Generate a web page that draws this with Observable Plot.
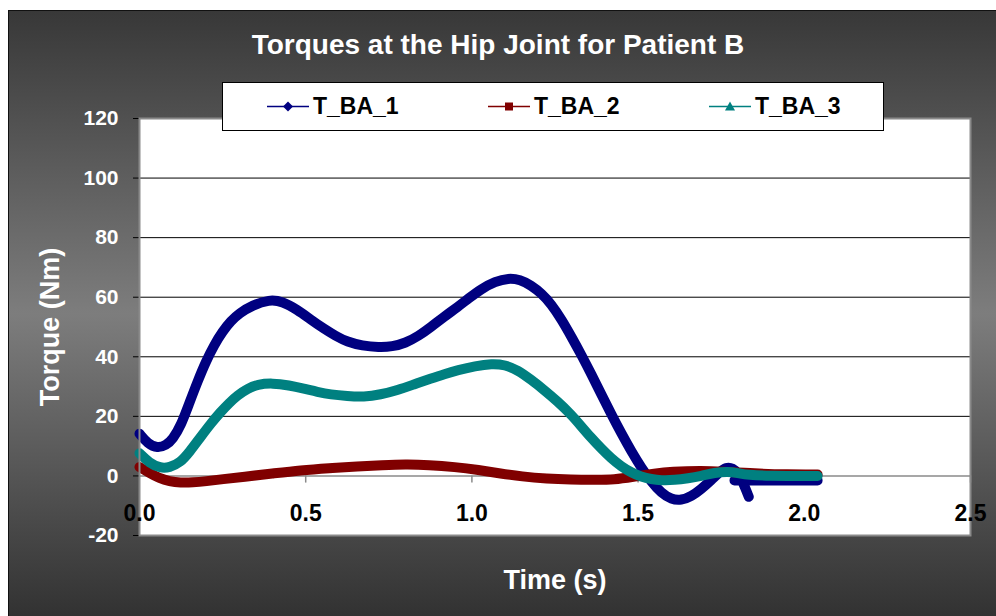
<!DOCTYPE html>
<html>
<head>
<meta charset="utf-8">
<script src="https://cdn.jsdelivr.net/npm/d3@7"></script>
<script src="https://cdn.jsdelivr.net/npm/@observablehq/plot@0.6"></script>
<style>
  html, body { margin: 0; padding: 0; background: #fff; }
  #wrap { position: relative; width: 996px; height: 616px; overflow: hidden; background: #fff;
          font-family: "Liberation Sans", Arial, sans-serif; }
  #bg { position: absolute; left: 8px; top: 10px; right: 0; bottom: 0;
        border-left: 1px solid #111; border-top: 1px solid #111;
        background: linear-gradient(to bottom, #383838 0%, #7d7d7d 50%, #323232 100%); }
  #title { position: absolute; left: 0; top: 27px; width: 996px; text-align: center;
           color: #fff; font-weight: bold; font-size: 28px; line-height: 36px; }
  #chart { position: absolute; left: 0; top: 0; }
  #legend { position: absolute; left: 222px; top: 82px; width: 660px; height: 47px;
            background: #fff; border: 1px solid #000; }
  .item { position: absolute; top: 0; height: 47px; }
  .item svg { position: absolute; top: 0; left: 0; }
  .item span { position: absolute; top: 0; line-height: 47px; font-size: 23px; font-weight: bold; color: #000; white-space: nowrap; }
</style>
</head>
<body>
<div id="wrap">
  <div id="bg"></div>
  <div id="chart"></div>
  <div id="title">Torques at the Hip Joint for Patient B</div>
  <div id="legend"></div>
</div>
<script>
// ---- Data ----
const seriesNames = ["T_BA_1", "T_BA_2", "T_BA_3"];
const seriesColors = ["#000080", "#800000", "#008080"];

// T_BA_1 (a gap, NaN, separates the short tail segment)
const time1 = [0, 0.025, 0.054, 0.08, 0.1, 0.125, 0.15, 0.175, 0.2, 0.225, 0.25, 0.275, 0.3, 0.34, 0.39, 0.43, 0.475, 0.515, 0.555, 0.59, 0.625, 0.67, 0.72, 0.76, 0.8, 0.84, 0.877, 0.917, 0.957, 0.99, 1.027, 1.07, 1.11, 1.145, 1.178, 1.21, 1.238, 1.27, 1.3, 1.33, 1.36, 1.39, 1.42, 1.45, 1.48, 1.51, 1.54, 1.57, 1.6, 1.63, 1.66, 1.69, 1.72, 1.745, 1.765, 1.785, 1.8, 1.815, 1.833, 1.84, 1.79, 1.9, 2.0, 2.04];
const torque1 = [14.2, 10.8, 9.3, 10.3, 12.3, 17, 24.5, 31.8, 38.5, 44, 48.5, 52, 54.6, 57.3, 59.2, 58.6, 55.8, 52.5, 49.4, 47, 45, 43.7, 43.2, 43.4, 44.6, 47, 50, 53.5, 56.7, 59.6, 62.7, 65.3, 66.4, 65.9, 64, 61.2, 57.8, 52.5, 46.6, 40.5, 34, 27.2, 20.6, 14.2, 8.2, 2.7, -2, -5.8, -7.9, -8.2, -6.9, -4.4, -1.4, 1.3, 3.0, 2.6, 1, -2, -7, NaN, -1.5, -1.5, -1.5, -1.5];

// T_BA_2
const time2 = [0, 0.03, 0.06, 0.09, 0.123, 0.16, 0.2, 0.25, 0.313, 0.4, 0.485, 0.57, 0.657, 0.73, 0.8, 0.87, 0.949, 1.02, 1.087, 1.15, 1.225, 1.3, 1.36, 1.43, 1.49, 1.55, 1.6, 1.69, 1.75, 1.85, 1.95, 2.04];
const torque2 = [3, 1, -0.8, -1.8, -2.3, -2.2, -1.8, -1.1, -0.3, 0.8, 1.9, 2.6, 3.2, 3.6, 3.9, 3.7, 3, 2, 0.8, -0.2, -0.9, -1.2, -1.3, -1.3, -0.2, 0.8, 1.4, 1.8, 1.5, 0.8, 0.5, 0.5];

// T_BA_3
const time3 = [0, 0.03, 0.063, 0.09, 0.123, 0.15, 0.184, 0.214, 0.244, 0.27, 0.294, 0.325, 0.355, 0.4, 0.45, 0.495, 0.535, 0.575, 0.625, 0.675, 0.725, 0.776, 0.825, 0.877, 0.917, 0.957, 1.01, 1.06, 1.1, 1.138, 1.178, 1.218, 1.258, 1.298, 1.328, 1.358, 1.389, 1.419, 1.449, 1.48, 1.509, 1.54, 1.569, 1.61, 1.65, 1.69, 1.73, 1.77, 1.8, 1.83, 1.9, 1.97, 2.04];
const torque3 = [7.6, 4.3, 2.6, 2.8, 4.5, 8, 13.1, 17.5, 21.5, 24.5, 27, 29.3, 30.7, 31.2, 30.4, 29.3, 28.2, 27.3, 26.8, 26.5, 27.3, 28.8, 30.7, 32.7, 34.2, 35.5, 36.9, 37.7, 37.3, 35.5, 32.3, 28.8, 25, 20.7, 16.8, 12.9, 9.2, 5.9, 3.2, 1.1, -0.3, -1.1, -1.5, -1.4, -0.8, 0, 1.1, 1.5, 1.0, 0.3, 0, 0, 0];

const xTicks = [0, 0.5, 1.0, 1.5, 2.0, 2.5];
const yTicks = [-20, 0, 20, 40, 60, 80, 100, 120];

const titleText = "Torques at the Hip Joint for Patient B";
const xLabel = "Time (s)";
const yLabel = "Torque (Nm)";

// ---- Build ----
const times = [time1, time2, time3];
const torques = [torque1, torque2, torque3];
const rows = [];
seriesNames.forEach((name, k) => {
  times[k].forEach((t, i) => rows.push({series: name, t, v: torques[k][i]}));
});

const font = '"Liberation Sans", Arial, sans-serif';

const chart = Plot.plot({
  width: 996,
  height: 616,
  marginLeft: 139,
  marginRight: 26,
  marginTop: 118,
  marginBottom: 81,
  style: {background: "transparent", fontFamily: font, overflow: "visible"},
  x: {domain: [0, 2.5]},
  y: {domain: [-20, 120]},
  color: {domain: seriesNames, range: seriesColors},
  marks: [
    Plot.frame({fill: "white"}),
    Plot.gridY(yTicks.filter(d => d > 0 && d < 120), {stroke: "#000", strokeOpacity: 1, strokeWidth: 1}),
    Plot.ruleY([0], {stroke: "#8a8a8a", strokeWidth: 1.5}),
    Plot.ruleX(xTicks.slice(1), {y1: 0, y2: -2.4, stroke: "#8a8a8a", strokeWidth: 1.5}),
    Plot.axisY({ticks: yTicks, tickSize: 6, tickPadding: 15, stroke: "#000", fill: "white",
                tickFormat: d => String(d), fontSize: 21, fontWeight: "bold", label: null}),
    ...seriesNames.map(name => Plot.line(rows.filter(r => r.series === name), {
      x: "t", y: "v", stroke: "series", strokeWidth: 10, curve: "basis",
      strokeLinecap: "round", strokeLinejoin: "round"
    })),
    Plot.frame({stroke: "#8a8a8a", strokeWidth: 2}),
    Plot.axisX({ticks: xTicks, anchor: "bottom", tickSize: 0, tickPadding: 0, dy: -31,
                tickFormat: d => d.toFixed(1), fill: "black", fontSize: 23, fontWeight: "bold", label: null}),
    Plot.text([yLabel], {frameAnchor: "left", dx: -89, rotate: -90, text: d => d, fill: "white",
                         fontSize: 27, fontWeight: "bold", textAnchor: "middle", lineAnchor: "middle"}),
    Plot.text([xLabel], {frameAnchor: "bottom", dy: 45, text: d => d, fill: "white",
                         fontSize: 27, fontWeight: "bold", textAnchor: "middle", lineAnchor: "middle"})
  ]
});
document.getElementById("chart").appendChild(chart);
document.getElementById("title").textContent = titleText;

// ---- Legend ----
const legend = document.getElementById("legend");
const itemLeft = [44, 265, 486];
const markers = ["diamond", "square", "triangle"];
seriesNames.forEach((name, k) => {
  const item = document.createElement("div");
  item.className = "item";
  item.style.left = itemLeft[k] + "px";
  const c = seriesColors[k];
  let m = "";
  if (markers[k] === "diamond") m = `<path d="M21,18.5 L26,23.5 L21,28.5 L16,23.5 Z" fill="${c}"/>`;
  if (markers[k] === "square") m = `<rect x="17" y="19.5" width="8" height="8" fill="${c}"/>`;
  if (markers[k] === "triangle") m = `<path d="M21,18.5 L26,27.5 L16,27.5 Z" fill="${c}"/>`;
  item.innerHTML = `<svg width="44" height="47"><line x1="0" x2="42" y1="23.5" y2="23.5" stroke="${c}" stroke-width="1.6"/>${m}</svg><span style="left:46px">${name}</span>`;
  legend.appendChild(item);
});
</script>
</body>
</html>
